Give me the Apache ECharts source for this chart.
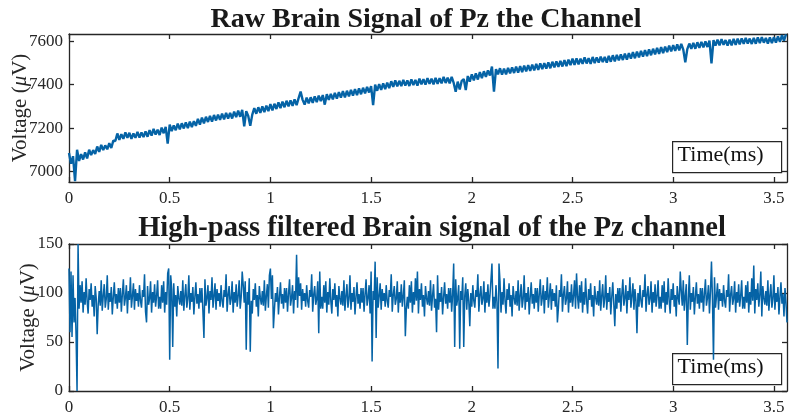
<!DOCTYPE html>
<html><head><meta charset="utf-8">
<script src="https://cdn.jsdelivr.net/npm/echarts@6/dist/echarts.min.js"></script>
<style>html,body{margin:0;padding:0;background:#fff}#c{width:789px;height:416px}</style>
</head><body><div id="c"></div>
<script>
const rawTitle = 'Raw Brain Signal of Pz the Channel';
const hpTitle = 'High-pass filtered Brain signal of the Pz channel';
const xLabelText = 'Time(ms)';
const xTicks = [0, 0.5, 1, 1.5, 2, 2.5, 3, 3.5];
const rawYTicks = [7000, 7200, 7400, 7600];
const hpYTicks = [0, 50, 100, 150];
const rawStepMs = 0.01;
const hpStepMs = 0.005;

const rawSignal = [
7085,7035,7070,6955,7100,7048,7080,7055,7088,7060,
7100,7075,7098,7080,7115,7090,7122,7098,7120,7102,
7130,7108,7142,7140,7175,7145,7172,7150,7180,7155,
7178,7150,7175,7155,7182,7156,7180,7158,7185,7160,
7190,7165,7196,7170,7192,7168,7202,7176,7205,7128,
7216,7186,7212,7190,7220,7194,7222,7198,7226,7200,
7230,7204,7232,7210,7242,7216,7248,7222,7252,7228,
7256,7230,7260,7235,7262,7238,7266,7240,7270,7244,
7270,7244,7276,7250,7280,7252,7284,7208,7278,7256,
7210,7262,7292,7266,7296,7270,7300,7274,7303,7278,
7310,7282,7312,7288,7318,7292,7322,7296,7326,7300,
7328,7302,7332,7306,7338,7368,7330,7308,7340,7314,
7342,7316,7346,7320,7350,7324,7352,7308,7356,7330,
7358,7332,7362,7336,7366,7340,7370,7342,7372,7346,
7376,7350,7380,7352,7383,7356,7386,7360,7390,7364,
7393,7306,7400,7372,7403,7376,7406,7380,7410,7384,
7416,7390,7420,7392,7418,7394,7422,7396,7420,7394,
7425,7398,7422,7396,7428,7402,7426,7400,7430,7404,
7428,7402,7432,7404,7430,7406,7436,7408,7433,7406,
7436,7408,7368,7414,7378,7418,7426,7375,7440,7414,
7448,7420,7452,7424,7458,7430,7462,7436,7466,7442,
7484,7368,7472,7448,7476,7446,7474,7448,7478,7452,
7480,7454,7483,7456,7486,7458,7488,7462,7490,7464,
7493,7466,7496,7468,7498,7472,7500,7474,7503,7476,
7506,7480,7508,7482,7510,7484,7513,7486,7516,7490,
7520,7492,7522,7494,7520,7496,7526,7498,7523,7496,
7528,7500,7526,7502,7530,7504,7528,7502,7533,7506,
7536,7508,7538,7512,7540,7514,7543,7516,7546,7520,
7550,7522,7553,7526,7556,7530,7560,7532,7563,7536,
7566,7540,7570,7542,7573,7546,7576,7550,7580,7554,
7583,7556,7586,7558,7588,7562,7503,7564,7590,7566,
7593,7566,7596,7570,7598,7572,7600,7574,7603,7498,
7606,7580,7608,7582,7610,7584,7606,7580,7608,7582,
7611,7584,7613,7586,7614,7588,7616,7590,7613,7588,
7616,7589,7618,7592,7620,7594,7616,7590,7618,7592,
7620,7594,7623,7598,7628,7604,7632
];

const hpSignal = [
125,60,122,55,118,70,95,58,0,150,84,108,90,112,80,101,88,115,92,79,
104,93,110,86,98,76,107,95,58,88,102,87,113,82,97,109,85,94,118,83,
100,91,106,78,96,111,89,99,84,105,90,105,81,99,114,87,95,108,79,102,
93,116,85,97,110,83,104,92,100,86,108,92,85,103,96,119,81,70,107,88,
94,112,80,101,90,109,86,97,113,84,96,84,108,90,112,80,101,88,120,125,
32,118,104,45,110,86,98,76,107,95,88,102,87,113,82,97,109,85,94,118,
83,100,91,106,78,96,111,89,99,84,105,90,105,81,54,114,87,95,108,79,
102,93,116,85,97,110,83,104,92,100,86,108,92,85,103,96,119,81,98,107,
88,94,112,80,101,90,109,86,97,113,84,96,122,108,90,112,42,101,88,115,
40,92,79,104,93,110,86,98,76,107,95,88,102,87,113,82,97,109,85,118,
125,94,118,64,83,100,91,106,78,96,111,89,99,84,105,90,105,81,99,114,
87,95,108,79,102,93,139,85,116,97,110,83,104,92,100,86,108,92,85,103,
96,119,81,98,107,88,94,112,59,122,84,96,84,108,90,112,80,101,88,115,
92,79,104,93,110,86,98,76,107,95,88,102,87,113,82,97,109,85,94,118,
83,100,91,106,78,96,111,89,99,84,105,90,105,81,99,114,87,95,108,79,
122,30,102,93,132,54,116,85,97,110,83,104,92,100,86,108,92,85,103,96,
119,81,98,107,88,94,112,80,101,90,109,86,97,113,56,84,96,84,108,90,
112,80,101,88,115,92,122,79,104,93,110,86,98,76,107,95,88,102,87,113,
82,97,109,85,94,60,118,83,100,91,106,78,96,111,89,99,84,105,90,105,
81,99,130,45,114,87,95,108,43,102,93,116,45,97,110,83,104,92,66,100,
86,108,92,85,103,96,119,81,98,107,88,94,112,80,101,90,109,86,97,113,
130,84,96,84,108,90,23,130,112,80,101,88,115,92,79,104,93,110,86,98,
76,107,95,88,102,87,113,82,97,109,85,94,118,83,100,91,106,78,96,111,
89,99,84,105,90,105,81,99,114,87,95,108,79,102,93,116,85,97,110,83,
104,92,100,86,108,70,85,103,96,119,81,98,107,88,94,112,80,101,90,109,
86,97,113,84,120,96,84,108,90,112,80,101,88,115,92,79,104,93,110,86,
98,76,107,95,88,102,87,113,82,97,109,85,94,118,83,100,91,106,78,96,
111,89,66,99,84,105,90,105,81,99,114,87,95,108,79,102,93,116,85,97,
110,83,104,92,59,100,86,108,92,85,103,96,119,81,98,107,88,94,112,80,
101,90,109,86,97,113,84,96,84,108,90,112,80,101,88,115,92,79,104,93,
110,86,98,76,107,95,88,122,102,87,113,82,97,109,47,94,118,83,100,91,
106,78,96,111,89,99,84,105,90,105,81,99,114,87,95,108,79,102,132,93,
32,116,85,97,110,83,104,92,100,86,108,92,85,103,96,119,81,98,107,88,
94,112,80,101,90,109,86,97,113,84,96,84,108,90,112,80,101,88,115,92,
128,79,104,93,110,86,98,122,76,107,95,88,102,87,113,82,97,109,85,94,
118,83,100,91,106,78,96,111,89,99,76,105,90,70
];

const SERIF = '"Liberation Serif","Times New Roman",serif';
const AX = '#262626';
const LINE = '#0563a6';

function toXY(arr, step) { return arr.map((v, i) => [+(i * step).toFixed(3), v]); }

function xAx(grid, pos) {
  return {
    type: 'value', gridIndex: grid, position: pos, min: 0, max: 3.565,
    axisLine: { show: true, onZero: false, lineStyle: { color: AX, width: 1.3 } },
    axisTick: { show: true, inside: true, length: 5, customValues: xTicks, lineStyle: { color: AX, width: 1.3 } },
    axisLabel: { show: pos === 'bottom', customValues: xTicks, color: AX, fontFamily: SERIF, fontSize: 17, margin: 8 },
    splitLine: { show: false }
  };
}
function yAx(grid, pos, min, max, ticks, gap) {
  return {
    type: 'value', gridIndex: grid, position: pos, min: min, max: max,
    name: pos === 'left' ? 'Voltage ({i|μ}V)' : '', nameLocation: 'middle', nameGap: gap,
    nameMoveOverlap: false,
    nameTextStyle: { color: AX, fontFamily: SERIF, fontSize: 21,
      rich: { i: { fontStyle: 'italic', fontFamily: SERIF, fontSize: 21, color: AX } } },
    axisLine: { show: true, onZero: false, lineStyle: { color: AX, width: 1.3 } },
    axisTick: { show: true, inside: true, length: 5, customValues: ticks, lineStyle: { color: AX, width: 1.3 } },
    axisLabel: { show: pos === 'left', customValues: ticks, color: AX, fontFamily: SERIF, fontSize: 17, margin: 6,
      formatter: v => String(v) },
    splitLine: { show: false }
  };
}
function timeBox(top) {
  return {
    type: 'group', left: 672, top: top,
    children: [
      { type: 'rect', shape: { x: 0, y: 0, width: 109, height: 31 }, style: { fill: '#fff', stroke: AX, lineWidth: 1.2 } },
      { type: 'text', x: 5, y: 3, style: { text: xLabelText, font: '22px ' + SERIF, fill: '#111' } }
    ]
  };
}

const chart = echarts.init(document.getElementById('c'), null, { renderer: 'canvas' });
chart.setOption({
  animation: false,
  backgroundColor: '#fff',
  title: [
    { text: rawTitle, left: 421, top: 1, textAlign: 'center',
      textStyle: { fontFamily: SERIF, fontWeight: 'bold', fontSize: 28, color: '#1a1a1a' } },
    { text: hpTitle, left: 427, top: 209, textAlign: 'center',
      textStyle: { fontFamily: SERIF, fontWeight: 'bold', fontSize: 28.5, color: '#1a1a1a' } }
  ],
  grid: [
    { left: 69, top: 34, width: 718, height: 148, outerBoundsMode: 'none', containLabel: false },
    { left: 69, top: 244, width: 718, height: 147, outerBoundsMode: 'none', containLabel: false }
  ],
  xAxis: [xAx(0, 'bottom'), xAx(0, 'top'), xAx(1, 'bottom'), xAx(1, 'top')],
  yAxis: [
    yAx(0, 'left', 6951, 7634, rawYTicks, 38),
    yAx(0, 'right', 6951, 7634, rawYTicks, 0),
    yAx(1, 'left', 0, 150, hpYTicks, 30),
    yAx(1, 'right', 0, 150, hpYTicks, 0)
  ],
  series: [
    { type: 'line', xAxisIndex: 0, yAxisIndex: 0, data: toXY(rawSignal, rawStepMs), showSymbol: false, clip: true,
      lineStyle: { color: LINE, width: 2.4 }, z: 1 },
    { type: 'line', xAxisIndex: 2, yAxisIndex: 2, data: toXY(hpSignal, hpStepMs), showSymbol: false, clip: true,
      lineStyle: { color: LINE, width: 1.5 }, z: 1 }
  ],
  graphic: [timeBox(141), timeBox(353)]
});
</script>
</body></html>
